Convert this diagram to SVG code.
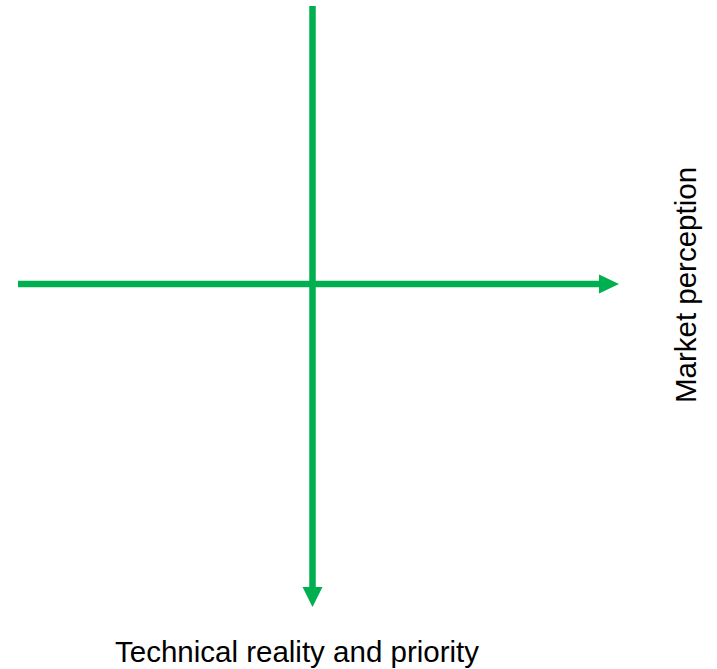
<svg xmlns="http://www.w3.org/2000/svg" width="717" height="669" viewBox="0 0 717 669">
  <style>
    .axis { stroke: #00B050; stroke-width: 6.5; fill: none; }
    .head { fill: #00B050; }
    .label { font-family: "Liberation Sans", Arial, sans-serif; font-size: 29.5px; fill: #000; }
  </style>
  <rect width="717" height="669" fill="#fff"/>
  <g id="connectors">
    <line class="axis" x1="18" y1="284" x2="600" y2="284"/>
    <polygon class="head" points="599,274.5 619,284 599,293.5"/>
    <line class="axis" x1="312.5" y1="6" x2="312.5" y2="588"/>
    <polygon class="head" points="302.5,587 322.5,587 312.5,607"/>
  </g>
  <g id="label-market">
    <text class="label" text-anchor="middle" transform="translate(696,285) rotate(-90)">Market perception</text>
  </g>
  <g id="label-technical">
    <text class="label" x="115" y="662">Technical reality and priority</text>
  </g>
</svg>
